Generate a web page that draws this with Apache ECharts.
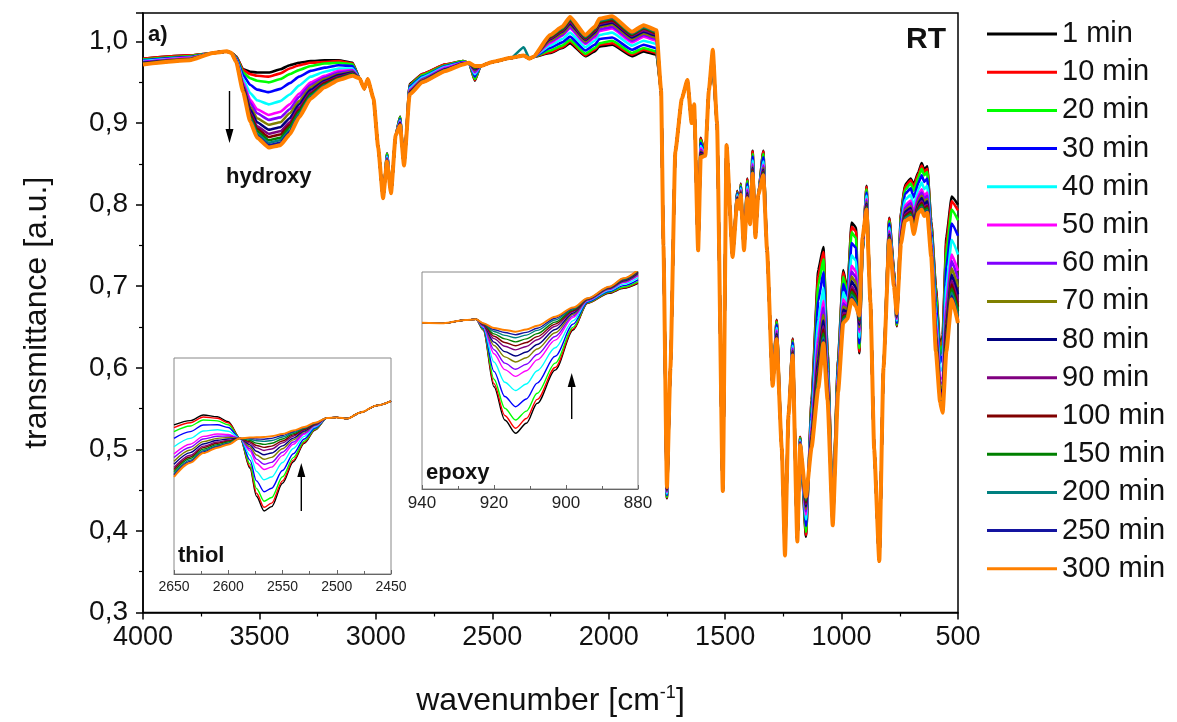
<!DOCTYPE html>
<html><head><meta charset="utf-8">
<script src="https://cdn.jsdelivr.net/npm/echarts@6/dist/echarts.min.js"></script>
<style>html,body{margin:0;padding:0;background:#fff}#c{width:1177px;height:722px}</style>
</head><body><div id="c"></div>
<script>
// ---------- series names / colours ----------
const seriesNames = ['1 min','10 min','20 min','30 min','40 min','50 min','60 min','70 min','80 min','90 min','100 min','150 min','200 min','250 min','300 min'];
const seriesColors = ['#000000','#ff0000','#00ff00','#0000ff','#00ffff','#ff00ff','#8000ff','#808000','#000080','#800080','#800000','#008000','#008080','#1414a0','#ff8000'];

// ---------- main spectrum: points common to all curves ----------
const mainSharedWn = [3700,3640,3620,3070,3050,3035,3010,2990,2969,2935,2915,2879,2600,2550,2500,2420,2340,2325,1775,1765,1735,1714,1686,1662,1644,1633,1616,1585,1570,1535,1510,1494,1468,1440,1419,1393,1370,1358,1320,1296,1257,1228,1190,876,860,838,820];
const mainSharedT  = [.986,.988,.986,.955,.942,.954,.930,.870,.808,.814,.885,.848,.974,.970,.975,.980,.979,.981,.940,.750,.600,.865,.930,.953,.900,.923,.744,.860,.940,.900,.449,.873,.736,.795,.744,.776,.760,.812,.744,.578,.502,.542,.387,.680,.500,.363,.600];

// ---------- main spectrum: points where the curves differ ----------
const mainVariedWn = [4000,3800,3600,3570,3540,3510,3460,3410,3370,3330,3280,3220,3160,3100,2952,2896,2855,2800,2700,2626,2575,2365,2252,2200,2166,2100,2060,2040,1985,1900,1850,1795,1750,1605,1553,1448,1433,1405,1382,1336,1279,1243,1210,1178,1153,1129,1100,1078,1060,1038,1015,993,975,957,938,924,910,893,795,775,763,745,728,703,690,670,656,645,632,615,595,577,566,550,527,500];
const mainT1   = [.979,.983,.982,.966,.963,.962,.962,.966,.971,.974,.976,.977,.977,.974,.863,.908,.948,.960,.972,.976,.952,.983,.986,.992,.998,.982,.988,.994,.996,.982,.988,.984,.440,.882,.966,.817,.826,.832,.866,.866,.659,.395,.636,.515,.393,.560,.720,.748,.620,.430,.610,.720,.695,.778,.772,.618,.740,.823,.784,.720,.651,.790,.824,.832,.825,.840,.851,.843,.847,.780,.700,.623,.640,.760,.810,.800];
const mainT10  = [.979,.983,.982,.965,.960,.958,.957,.961,.967,.971,.974,.975,.976,.973,.862,.907,.947,.960,.972,.976,.953,.983,.987,.993,1.000,.983,.990,.996,.998,.984,.990,.986,.441,.881,.967,.816,.825,.831,.865,.865,.658,.394,.635,.515,.395,.557,.713,.742,.617,.429,.608,.717,.693,.773,.767,.620,.741,.822,.783,.719,.652,.788,.822,.830,.822,.838,.848,.840,.844,.778,.696,.620,.635,.753,.804,.793];
const mainT20  = [.978,.982,.981,.962,.955,.952,.950,.954,.960,.965,.970,.973,.974,.972,.862,.907,.946,.959,.971,.976,.954,.983,.989,.995,1.002,.985,.992,.998,1.001,.986,.992,.988,.442,.879,.969,.815,.824,.829,.862,.862,.656,.392,.633,.514,.399,.552,.701,.733,.612,.427,.605,.712,.690,.766,.759,.624,.743,.819,.780,.717,.653,.785,.818,.826,.817,.834,.844,.836,.840,.774,.690,.615,.628,.742,.794,.781];
const mainT30  = [.977,.981,.980,.959,.947,.941,.938,.942,.949,.957,.964,.968,.971,.970,.860,.905,.945,.957,.970,.975,.957,.983,.992,.999,1.006,.989,.996,1.003,1.005,.990,.996,.992,.444,.876,.972,.814,.822,.826,.859,.858,.653,.389,.631,.512,.406,.545,.682,.717,.604,.424,.600,.703,.686,.753,.747,.630,.745,.815,.777,.715,.655,.780,.813,.820,.809,.827,.836,.828,.832,.769,.679,.606,.615,.724,.777,.762];
const mainT40  = [.976,.980,.979,.954,.937,.928,.923,.927,.935,.946,.957,.963,.967,.967,.859,.903,.943,.956,.969,.974,.960,.983,.995,1.003,1.011,.993,1.001,1.008,1.011,.995,1.001,.997,.446,.872,.976,.812,.820,.822,.854,.853,.649,.385,.627,.511,.414,.536,.659,.698,.595,.420,.593,.693,.680,.738,.731,.637,.748,.811,.772,.712,.658,.774,.806,.812,.799,.819,.827,.819,.823,.762,.666,.596,.600,.701,.757,.739];
const mainT50  = [.975,.980,.978,.950,.929,.917,.910,.914,.923,.936,.950,.958,.964,.965,.857,.902,.941,.954,.968,.974,.962,.983,.998,1.007,1.016,.997,1.005,1.013,1.016,.999,1.006,1.001,.448,.869,.979,.810,.818,.819,.850,.849,.646,.381,.624,.509,.420,.528,.639,.682,.586,.417,.588,.684,.675,.725,.718,.644,.751,.807,.768,.709,.660,.769,.799,.805,.791,.812,.819,.811,.815,.755,.655,.587,.587,.682,.739,.719];
const mainT60  = [.975,.979,.978,.948,.925,.912,.904,.907,.917,.932,.947,.956,.962,.964,.857,.901,.940,.954,.967,.974,.963,.983,1.000,1.008,1.018,.998,1.007,1.015,1.018,1.001,1.008,1.003,.449,.867,.981,.809,.817,.817,.848,.847,.644,.379,.623,.509,.424,.524,.629,.674,.582,.416,.585,.679,.673,.718,.711,.647,.753,.805,.766,.707,.661,.766,.796,.802,.787,.809,.815,.807,.811,.752,.650,.582,.580,.672,.731,.709];
const mainT70  = [.974,.979,.977,.946,.920,.906,.898,.901,.912,.927,.944,.954,.960,.963,.856,.900,.939,.953,.966,.973,.965,.983,1.001,1.010,1.020,1.000,1.009,1.018,1.021,1.003,1.010,1.005,.450,.865,.983,.809,.816,.815,.846,.845,.642,.378,.621,.508,.427,.519,.619,.665,.578,.414,.582,.675,.671,.712,.704,.650,.754,.803,.764,.706,.662,.763,.793,.798,.782,.805,.811,.803,.807,.749,.644,.578,.574,.662,.722,.699];
const mainT80  = [.974,.978,.977,.945,.917,.901,.892,.895,.906,.923,.941,.952,.959,.962,.855,.900,.938,.952,.966,.973,.966,.983,1.003,1.012,1.022,1.002,1.011,1.020,1.023,1.005,1.012,1.007,.451,.864,.984,.808,.815,.814,.845,.843,.641,.376,.620,.507,.430,.516,.610,.658,.574,.413,.580,.671,.668,.706,.698,.653,.755,.801,.763,.705,.663,.761,.791,.796,.779,.802,.808,.800,.804,.747,.639,.574,.568,.654,.714,.690];
const mainT90  = [.973,.978,.976,.943,.913,.896,.887,.890,.901,.919,.938,.950,.957,.961,.855,.899,.937,.952,.965,.973,.967,.983,1.004,1.013,1.024,1.003,1.013,1.022,1.025,1.007,1.014,1.009,.452,.862,.986,.807,.815,.812,.843,.841,.639,.375,.619,.507,.433,.512,.601,.651,.571,.411,.577,.667,.666,.700,.692,.656,.756,.799,.761,.704,.664,.759,.788,.793,.775,.799,.804,.796,.800,.744,.634,.570,.562,.645,.707,.681];
const mainT100 = [.973,.978,.976,.942,.911,.893,.883,.886,.898,.916,.936,.949,.956,.960,.854,.899,.937,.951,.965,.973,.968,.983,1.005,1.014,1.026,1.004,1.014,1.023,1.026,1.008,1.016,1.010,.452,.861,.987,.807,.814,.811,.842,.840,.638,.374,.618,.506,.435,.510,.595,.647,.568,.410,.576,.664,.665,.696,.689,.658,.757,.798,.760,.703,.665,.757,.786,.791,.773,.797,.802,.794,.798,.742,.631,.567,.558,.640,.702,.675];
const mainT150 = [.973,.978,.976,.941,.908,.890,.879,.882,.895,.914,.935,.947,.955,.960,.854,.898,.936,.951,.965,.972,.968,.983,1.006,1.015,1.027,1.005,1.015,1.025,1.028,1.009,1.017,1.011,.453,.860,.988,.806,.813,.810,.841,.839,.637,.373,.617,.506,.437,.508,.590,.642,.566,.409,.574,.662,.664,.693,.685,.659,.758,.797,.759,.702,.665,.756,.784,.789,.770,.795,.800,.792,.796,.740,.628,.565,.555,.634,.697,.670];
const mainT200 = [.972,.977,.975,.940,.906,.887,.876,.879,.891,.911,.933,.946,.954,.959,.854,.898,.936,.951,.965,.972,.969,.993,1.007,1.016,1.028,1.006,1.016,1.026,1.029,1.010,1.018,1.012,.453,.859,.989,.806,.813,.809,.840,.838,.636,.372,.616,.506,.439,.506,.584,.637,.564,.408,.572,.659,.662,.689,.681,.661,.759,.796,.758,.701,.666,.754,.783,.787,.768,.793,.797,.789,.793,.739,.625,.562,.551,.628,.692,.664];
const mainT250 = [.972,.977,.975,.939,.904,.884,.873,.876,.889,.909,.931,.945,.954,.959,.853,.897,.935,.950,.964,.972,.970,.983,1.007,1.017,1.029,1.007,1.017,1.027,1.030,1.011,1.019,1.013,.454,.859,.989,.805,.812,.809,.839,.837,.636,.371,.616,.505,.441,.504,.579,.634,.562,.408,.571,.657,.661,.686,.678,.663,.759,.795,.757,.701,.667,.753,.781,.785,.766,.792,.796,.788,.792,.737,.622,.560,.548,.624,.688,.659];
const mainT300 = [.972,.977,.975,.938,.902,.882,.870,.873,.886,.907,.930,.944,.953,.958,.853,.897,.935,.950,.964,.972,.970,.983,1.008,1.018,1.030,1.008,1.018,1.028,1.031,1.012,1.020,1.014,.454,.858,.990,.805,.812,.808,.838,.836,.635,.370,.615,.505,.442,.502,.575,.630,.560,.407,.570,.655,.660,.683,.675,.664,.760,.794,.756,.700,.667,.752,.780,.784,.764,.790,.794,.786,.790,.736,.620,.558,.545,.620,.684,.655];

// ---------- thiol inset (relative units) ----------
const thiolSharedWn = [2589,2509,2500,2490,2478,2463,2450];
const thiolSharedT  = [.628,.722,.725,.720,.748,.780,.800];
const thiolVariedWn = [2650,2635,2623,2610,2600,2580,2574,2567,2560,2550,2540,2530,2520];
const thiolT1   = [.690,.710,.736,.728,.705,.490,.360,.292,.312,.420,.520,.605,.667];
const thiolT10  = [.678,.700,.727,.721,.700,.497,.374,.309,.328,.431,.527,.609,.669];
const thiolT20  = [.659,.685,.713,.709,.691,.509,.396,.337,.354,.450,.539,.615,.671];
const thiolT30  = [.628,.659,.690,.691,.678,.527,.431,.381,.397,.479,.557,.625,.676];
const thiolT40  = [.589,.628,.662,.668,.661,.550,.475,.436,.449,.516,.581,.637,.681];
const thiolT50  = [.556,.601,.637,.648,.646,.570,.513,.484,.495,.548,.601,.647,.686];
const thiolT60  = [.539,.587,.625,.638,.639,.580,.532,.508,.517,.564,.611,.652,.688];
const thiolT70  = [.522,.574,.613,.628,.632,.589,.551,.531,.540,.580,.621,.658,.690];
const thiolT80  = [.508,.562,.602,.619,.625,.598,.568,.552,.560,.593,.629,.662,.692];
const thiolT90  = [.493,.550,.592,.611,.619,.606,.584,.572,.579,.607,.638,.667,.694];
const thiolT100 = [.484,.542,.585,.605,.615,.612,.595,.586,.592,.616,.644,.670,.695];
const thiolT150 = [.474,.535,.578,.599,.611,.618,.606,.600,.605,.625,.650,.673,.697];
const thiolT200 = [.464,.527,.571,.594,.606,.624,.617,.614,.618,.634,.655,.676,.698];
const thiolT250 = [.457,.521,.565,.589,.603,.628,.625,.624,.628,.641,.660,.678,.699];
const thiolT300 = [.450,.515,.560,.585,.600,.632,.633,.634,.638,.648,.664,.680,.700];

// ---------- epoxy inset (relative units) ----------
const epoxySharedWn = [940,934,928,925];
const epoxySharedT  = [.766,.764,.779,.782];
const epoxyVariedWn = [923,920,917,914,911,908,903,898,894,888,884,880];
const epoxyT1   = [.733,.471,.318,.257,.303,.395,.548,.733,.856,.902,.925,.948];
const epoxyT10  = [.735,.485,.339,.280,.325,.413,.560,.738,.857,.904,.927,.951];
const epoxyT20  = [.737,.506,.372,.318,.359,.441,.580,.746,.859,.906,.931,.956];
const epoxyT30  = [.741,.542,.426,.379,.415,.488,.612,.760,.862,.910,.937,.964];
const epoxyT40  = [.746,.585,.492,.454,.484,.545,.651,.776,.866,.915,.944,.974];
const epoxyT50  = [.750,.623,.550,.519,.545,.595,.686,.791,.869,.919,.951,.983];
const epoxyT60  = [.753,.642,.580,.552,.575,.620,.703,.798,.871,.921,.954,.987];
const epoxyT70  = [.755,.661,.609,.585,.605,.645,.720,.805,.872,.923,.957,.991];
const epoxyT80  = [.757,.677,.633,.613,.631,.666,.735,.811,.874,.925,.960,.995];
const epoxyT90  = [.758,.693,.658,.641,.657,.688,.750,.818,.875,.927,.963,.999];
const epoxyT100 = [.760,.704,.675,.660,.675,.702,.760,.822,.876,.928,.965,1.001];
const epoxyT150 = [.761,.715,.692,.678,.692,.716,.769,.826,.877,.929,.966,1.004];
const epoxyT200 = [.762,.726,.708,.697,.709,.731,.779,.830,.878,.930,.968,1.006];
const epoxyT250 = [.763,.734,.721,.711,.722,.741,.787,.833,.878,.931,.970,1.008];
const epoxyT300 = [.764,.742,.733,.725,.735,.752,.794,.836,.879,.932,.971,1.010];

const mainValues  = [mainT1,mainT10,mainT20,mainT30,mainT40,mainT50,mainT60,mainT70,mainT80,mainT90,mainT100,mainT150,mainT200,mainT250,mainT300];
const thiolValues = [thiolT1,thiolT10,thiolT20,thiolT30,thiolT40,thiolT50,thiolT60,thiolT70,thiolT80,thiolT90,thiolT100,thiolT150,thiolT200,thiolT250,thiolT300];
const epoxyValues = [epoxyT1,epoxyT10,epoxyT20,epoxyT30,epoxyT40,epoxyT50,epoxyT60,epoxyT70,epoxyT80,epoxyT90,epoxyT100,epoxyT150,epoxyT200,epoxyT250,epoxyT300];

// ---------- build ----------
const FONT = "'Liberation Sans', Arial, sans-serif";
function assemble(sWn, sT, vWn, vT) {
  const pts = [];
  sWn.forEach((w, i) => pts.push([w, sT[i]]));
  vWn.forEach((w, i) => pts.push([w, vT[i]]));
  pts.sort((a, b) => b[0] - a[0]);
  return pts;
}
const series = [];
seriesNames.forEach((name, k) => {
  series.push({
    type: 'line', name, xAxisIndex: 0, yAxisIndex: 0, symbol: 'none', smooth: 0.15, smoothMonotone: 'x',
    data: assemble(mainSharedWn, mainSharedT, mainVariedWn, mainValues[k]),
    lineStyle: { width: k === 14 ? 4 : 2.6, color: seriesColors[k] }, itemStyle: { color: seriesColors[k] }
  });
});
seriesNames.forEach((name, k) => {
  series.push({
    type: 'line', name, xAxisIndex: 1, yAxisIndex: 1, symbol: 'none', smooth: 0.3, smoothMonotone: 'x',
    data: assemble(thiolSharedWn, thiolSharedT, thiolVariedWn, thiolValues[k]),
    lineStyle: { width: k === 14 ? 2 : 1.4, color: seriesColors[k] }, itemStyle: { color: seriesColors[k] }
  });
});
seriesNames.forEach((name, k) => {
  series.push({
    type: 'line', name, xAxisIndex: 2, yAxisIndex: 2, symbol: 'none', smooth: 0.3, smoothMonotone: 'x',
    data: assemble(epoxySharedWn, epoxySharedT, epoxyVariedWn, epoxyValues[k]),
    lineStyle: { width: k === 14 ? 2 : 1.4, color: seriesColors[k] }, itemStyle: { color: seriesColors[k] }
  });
});

const plainNum = v => String(v);

function insetX(grid, min, max, interval, fs) {
  return {
    type: 'value', gridIndex: grid, min, max, interval, inverse: true,
    axisLine: { show: true, lineStyle: { color: '#666', width: 1 } },
    axisTick: { show: true, inside: true, length: 4, lineStyle: { color: '#666' } },
    minorTick: { show: true, splitNumber: 2, length: 3, lineStyle: { color: '#666' } },
    splitLine: { show: false },
    axisLabel: { fontSize: fs, color: '#222', fontFamily: FONT, margin: 6, formatter: plainNum }
  };
}
function insetY(grid) {
  return { type: 'value', gridIndex: grid, min: 0, max: 1, axisLine: { show: false }, axisTick: { show: false }, axisLabel: { show: false }, splitLine: { show: false } };
}

function arrow(x, yTail, yTip) {
  const dir = yTip > yTail ? 1 : -1;
  return [
    { type: 'line', shape: { x1: x, y1: yTail, x2: x, y2: yTip - dir * 12 }, style: { stroke: '#000', lineWidth: 1.4 }, z: 100 },
    { type: 'polygon', shape: { points: [[x - 4, yTip - dir * 14], [x + 4, yTip - dir * 14], [x, yTip]] }, style: { fill: '#000' }, z: 100 }
  ];
}

const option = {
  animation: false,
  backgroundColor: '#fff',
  textStyle: { fontFamily: FONT },
  grid: [
    { left: 143, top: 13, width: 815, height: 607, show: true, borderColor: '#000', borderWidth: 1.5, backgroundColor: 'transparent' },
    { left: 174, top: 358, width: 217, height: 216, show: true, borderColor: '#888', borderWidth: 1, backgroundColor: '#fff' },
    { left: 422, top: 272, width: 216, height: 217, show: true, borderColor: '#888', borderWidth: 1, backgroundColor: '#fff' }
  ],
  xAxis: [
    {
      type: 'value', gridIndex: 0, min: 500, max: 4000, interval: 500, inverse: true,
      name: 'wavenumber [cm{sup|-1}]', nameLocation: 'middle', nameGap: 72,
      nameTextStyle: { fontSize: 32, color: '#111', fontFamily: FONT, rich: { sup: { fontSize: 18, color: '#111', fontFamily: FONT, verticalAlign: 'bottom', padding: [0, 0, 15, 0] } } },
      axisLine: { show: true, lineStyle: { color: '#000', width: 1.5 } },
      axisTick: { show: true, inside: false, length: 7, lineStyle: { color: '#000', width: 1.5 } },
      minorTick: { show: true, splitNumber: 2, length: 4, lineStyle: { color: '#000', width: 1.2 } },
      splitLine: { show: false },
      axisLabel: { fontSize: 27, color: '#111', fontFamily: FONT, margin: 12, formatter: plainNum }
    },
    insetX(1, 2450, 2650, 50, 14),
    insetX(2, 880, 940, 20, 17)
  ],
  yAxis: [
    {
      type: 'value', gridIndex: 0, min: 0.3, max: 1.035, interval: 0.1,
      name: 'transmittance [a.u.]', nameLocation: 'middle', nameGap: 90,
      nameTextStyle: { fontSize: 32, color: '#111', fontFamily: FONT },
      axisLine: { show: true, lineStyle: { color: '#000', width: 1.5 } },
      axisTick: { show: true, inside: false, length: 7, lineStyle: { color: '#000', width: 1.5 } },
      minorTick: { show: true, splitNumber: 2, length: 4, lineStyle: { color: '#000', width: 1.2 } },
      splitLine: { show: false },
      axisLabel: {
        fontSize: 28, color: '#111', fontFamily: FONT, margin: 15, showMaxLabel: false,
        formatter: v => (Math.abs(v * 10 - Math.round(v * 10)) < 1e-6 ? v.toFixed(1).replace('.', ',') : '')
      }
    },
    insetY(1),
    insetY(2)
  ],
  legend: {
    data: seriesNames, orient: 'vertical', left: 982, top: 14, icon: 'rect',
    itemWidth: 70, itemHeight: 3, itemGap: 8.2, selectedMode: false,
    textStyle: { fontSize: 29, lineHeight: 30, color: '#111', fontFamily: FONT }
  },
  graphic: [
    { type: 'text', left: 148, top: 24, style: { text: 'a)', font: "bold 22px 'Liberation Sans', Arial, sans-serif", fill: '#111' }, z: 100 },
    { type: 'text', left: 906, top: 25, style: { text: 'RT', font: "bold 30px 'Liberation Sans', Arial, sans-serif", fill: '#111' }, z: 100 },
    { type: 'text', left: 226, top: 166, style: { text: 'hydroxy', font: "bold 22px 'Liberation Sans', Arial, sans-serif", fill: '#111' }, z: 100 },
    { type: 'text', left: 178, top: 545, style: { text: 'thiol', font: "bold 22px 'Liberation Sans', Arial, sans-serif", fill: '#111' }, z: 100 },
    { type: 'text', left: 426, top: 462, style: { text: 'epoxy', font: "bold 22px 'Liberation Sans', Arial, sans-serif", fill: '#111' }, z: 100 },
    ...arrow(229.5, 91, 143),
    ...arrow(301.3, 511, 463),
    ...arrow(571.7, 419, 373)
  ],
  series
};
const chart = echarts.init(document.getElementById('c'), null, { renderer: 'canvas' });
chart.setOption(option);
</script>
</body></html>
